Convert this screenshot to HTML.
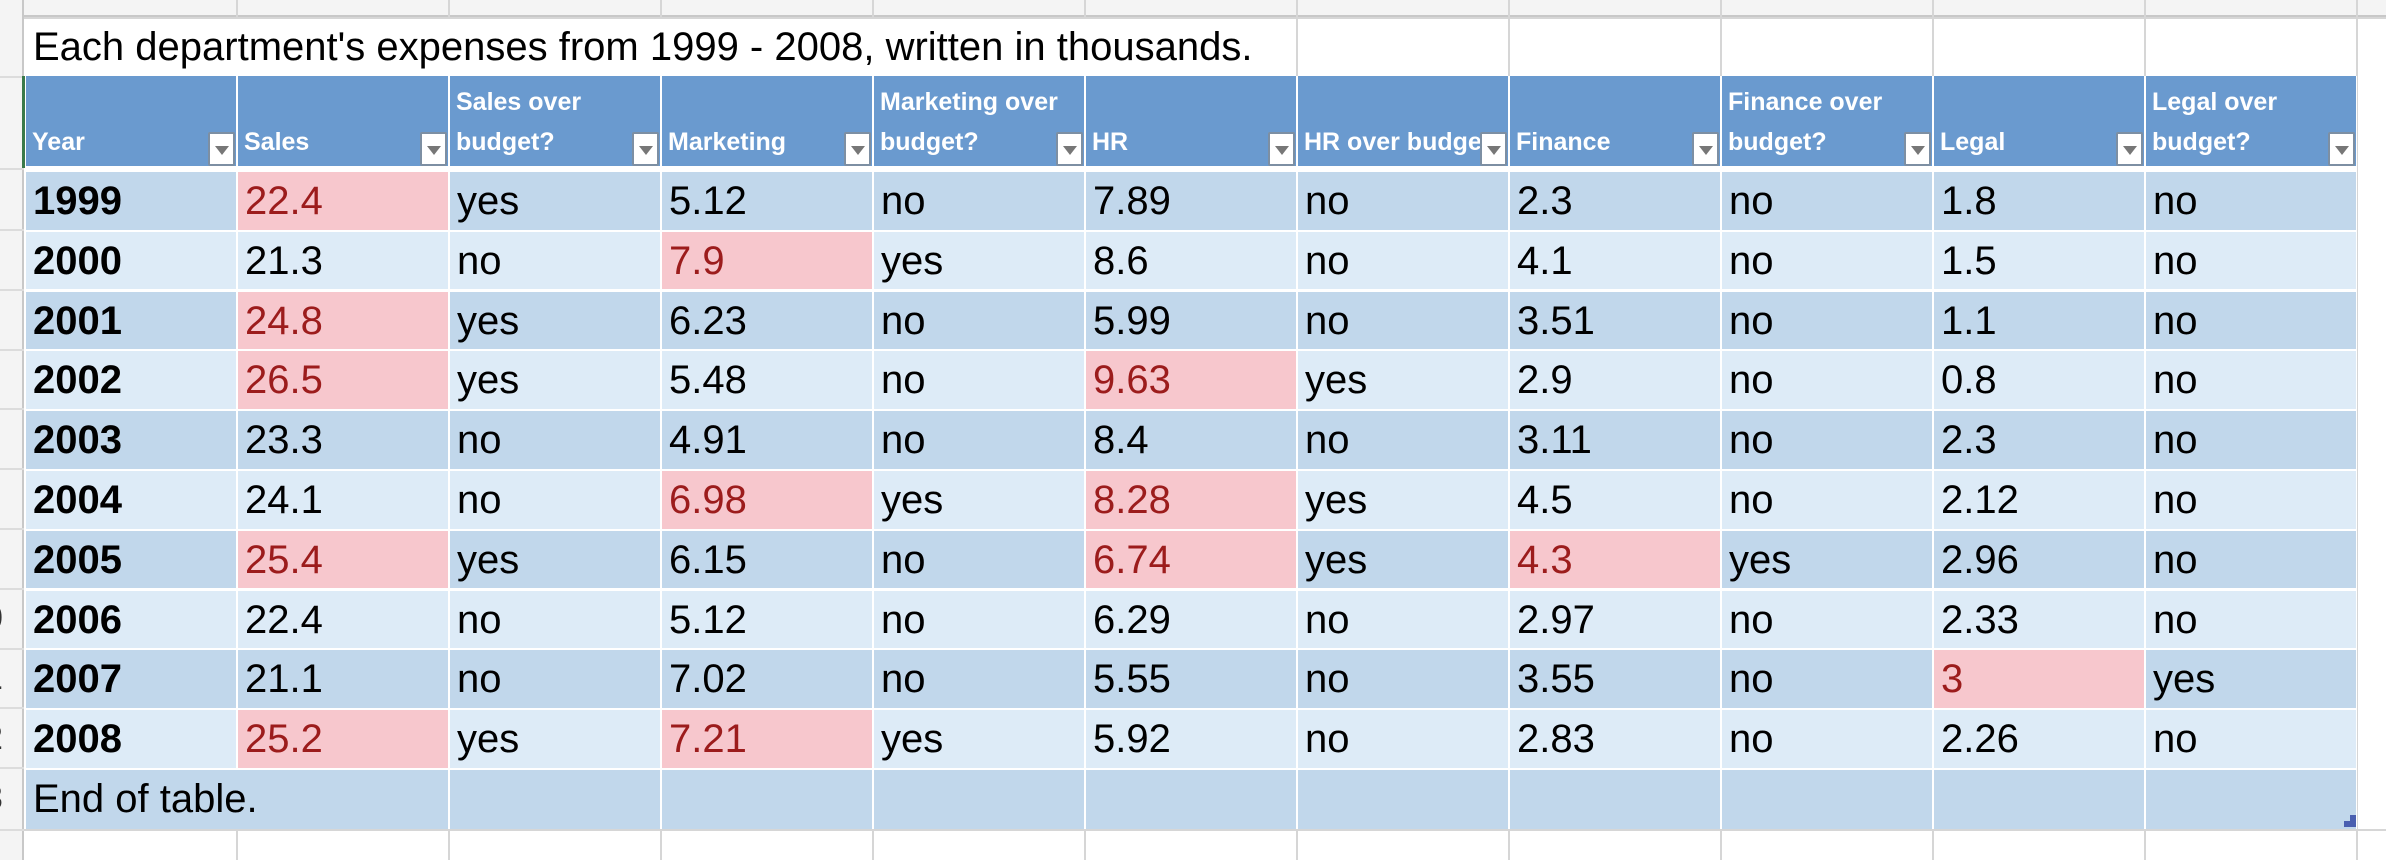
<!DOCTYPE html>
<html><head><meta charset="utf-8"><style>
*{margin:0;padding:0;box-sizing:border-box}
body{width:2386px;height:860px;background:#fff;position:relative;overflow:hidden;font-family:"Liberation Sans",sans-serif}
.vl{position:absolute;top:0;height:860px;width:2px;background:#d6d6d6}
.hl{position:absolute;left:0;width:2386px;height:2px;background:#d6d6d6}
.top{position:absolute;left:0;top:0;width:2386px;height:17px;background:#f4f4f4;border-bottom:2px solid #c8c8c8}
.rn{position:absolute;left:0;top:0;width:24px;height:860px;background:#f4f4f4;border-right:2px solid #c8c8c8}
.rnl{position:absolute;left:0;width:24px;height:2px;background:#dcdcdc}
.rnt{position:absolute;right:2px;font-size:34px;color:#333;line-height:40px}
.title{position:absolute;left:26px;top:19px;width:1270px;height:57px;background:#fff;font-size:40px;line-height:57px;padding-left:7px;white-space:nowrap;color:#000}
.wbg{position:absolute;left:25px;top:76px;width:2332px;height:753px;background:#fff}
.row{position:absolute;left:26px;display:flex;gap:2px;height:57.5px}
.c{width:210px;height:100%;font-size:40px;line-height:59px;padding-left:7px;color:#000;white-space:nowrap;overflow:hidden}
.d .c{background:#c1d7eb}
.l .c{background:#ddebf7}
.c.p{background:#f7c7cd !important;color:#9c1c1c}
.b{font-weight:bold}
.hdr{position:absolute;left:26px;top:76px;display:flex;gap:2px;height:90px}
.h{width:210px;height:90px;background:#6a9acf;color:#fff;font-weight:bold;font-size:25px;line-height:40px;padding:0 30px 4px 6px;position:relative;display:flex;align-items:flex-end;overflow:hidden;white-space:nowrap}
.dd{position:absolute;right:1px;bottom:0;width:27px;height:34px;background:#fff;border:2px solid #7d8fa3;border-radius:2px}
.dd:after{content:"";position:absolute;left:5px;top:12px;border-left:7px solid transparent;border-right:7px solid transparent;border-top:9px solid #777}
.green{position:absolute;left:22px;top:76px;width:3px;height:92px;background:#3a7a4a}
.corner{position:absolute;left:2344px;top:815px;width:12px;height:12px;background:#4a5fb0}
</style></head><body>
<div class="top"></div>
<div class="vl" style="left:236px"></div><div class="vl" style="left:448px"></div><div class="vl" style="left:660px"></div><div class="vl" style="left:872px"></div><div class="vl" style="left:1084px"></div><div class="vl" style="left:1296px"></div><div class="vl" style="left:1508px"></div><div class="vl" style="left:1720px"></div><div class="vl" style="left:1932px"></div><div class="vl" style="left:2144px"></div><div class="vl" style="left:2356px"></div>
<div class="hl" style="top:17px"></div><div class="hl" style="top:829px"></div>
<div class="rn"></div>
<div class="rnl" style="top:76px"></div><div class="rnl" style="top:168px"></div><div class="rnl" style="top:229px"></div><div class="rnl" style="top:289px"></div><div class="rnl" style="top:349px"></div><div class="rnl" style="top:408px"></div><div class="rnl" style="top:468px"></div><div class="rnl" style="top:528px"></div><div class="rnl" style="top:588px"></div><div class="rnl" style="top:648px"></div><div class="rnl" style="top:707px"></div><div class="rnl" style="top:767px"></div><div class="rnl" style="top:829px"></div>
<div class="rnt" style="top:598px;left:-16px">0</div><div class="rnt" style="top:658px;left:-16px">1</div><div class="rnt" style="top:718px;left:-16px">2</div><div class="rnt" style="top:778px;left:-16px">3</div>
<div class="title">Each department's expenses from 1999 - 2008, written in thousands.</div>
<div class="wbg"></div>
<div class="green"></div>
<div class="hdr">
<div class="h">Year<span class="dd"></span></div>
<div class="h">Sales<span class="dd"></span></div>
<div class="h">Sales over<br>budget?<span class="dd"></span></div>
<div class="h">Marketing<span class="dd"></span></div>
<div class="h">Marketing over<br>budget?<span class="dd"></span></div>
<div class="h">HR<span class="dd"></span></div>
<div class="h" style="padding-right:0">HR over budget?<span class="dd"></span></div>
<div class="h">Finance<span class="dd"></span></div>
<div class="h">Finance over<br>budget?<span class="dd"></span></div>
<div class="h">Legal<span class="dd"></span></div>
<div class="h">Legal over<br>budget?<span class="dd"></span></div>
</div>
<div class="row d" style="top:172px"><div class="c b">1999</div><div class="c p">22.4</div><div class="c">yes</div><div class="c">5.12</div><div class="c">no</div><div class="c">7.89</div><div class="c">no</div><div class="c">2.3</div><div class="c">no</div><div class="c">1.8</div><div class="c">no</div></div>
<div class="row l" style="top:231.8px"><div class="c b">2000</div><div class="c">21.3</div><div class="c">no</div><div class="c p">7.9</div><div class="c">yes</div><div class="c">8.6</div><div class="c">no</div><div class="c">4.1</div><div class="c">no</div><div class="c">1.5</div><div class="c">no</div></div>
<div class="row d" style="top:291.6px"><div class="c b">2001</div><div class="c p">24.8</div><div class="c">yes</div><div class="c">6.23</div><div class="c">no</div><div class="c">5.99</div><div class="c">no</div><div class="c">3.51</div><div class="c">no</div><div class="c">1.1</div><div class="c">no</div></div>
<div class="row l" style="top:351.4px"><div class="c b">2002</div><div class="c p">26.5</div><div class="c">yes</div><div class="c">5.48</div><div class="c">no</div><div class="c p">9.63</div><div class="c">yes</div><div class="c">2.9</div><div class="c">no</div><div class="c">0.8</div><div class="c">no</div></div>
<div class="row d" style="top:411.2px"><div class="c b">2003</div><div class="c">23.3</div><div class="c">no</div><div class="c">4.91</div><div class="c">no</div><div class="c">8.4</div><div class="c">no</div><div class="c">3.11</div><div class="c">no</div><div class="c">2.3</div><div class="c">no</div></div>
<div class="row l" style="top:471px"><div class="c b">2004</div><div class="c">24.1</div><div class="c">no</div><div class="c p">6.98</div><div class="c">yes</div><div class="c p">8.28</div><div class="c">yes</div><div class="c">4.5</div><div class="c">no</div><div class="c">2.12</div><div class="c">no</div></div>
<div class="row d" style="top:530.8px"><div class="c b">2005</div><div class="c p">25.4</div><div class="c">yes</div><div class="c">6.15</div><div class="c">no</div><div class="c p">6.74</div><div class="c">yes</div><div class="c p">4.3</div><div class="c">yes</div><div class="c">2.96</div><div class="c">no</div></div>
<div class="row l" style="top:590.6px"><div class="c b">2006</div><div class="c">22.4</div><div class="c">no</div><div class="c">5.12</div><div class="c">no</div><div class="c">6.29</div><div class="c">no</div><div class="c">2.97</div><div class="c">no</div><div class="c">2.33</div><div class="c">no</div></div>
<div class="row d" style="top:650.4px"><div class="c b">2007</div><div class="c">21.1</div><div class="c">no</div><div class="c">7.02</div><div class="c">no</div><div class="c">5.55</div><div class="c">no</div><div class="c">3.55</div><div class="c">no</div><div class="c p">3</div><div class="c">yes</div></div>
<div class="row l" style="top:710.2px"><div class="c b">2008</div><div class="c p">25.2</div><div class="c">yes</div><div class="c p">7.21</div><div class="c">yes</div><div class="c">5.92</div><div class="c">no</div><div class="c">2.83</div><div class="c">no</div><div class="c">2.26</div><div class="c">no</div></div>
<div class="row d" style="top:770px;height:59px"><div class="c" style="width:422px;line-height:59px">End of table.</div><div class="c"></div><div class="c"></div><div class="c"></div><div class="c"></div><div class="c"></div><div class="c"></div><div class="c"></div><div class="c"></div><div class="c"></div></div>
<div class="corner" style="clip-path:polygon(50% 0,100% 0,100% 100%,0 100%,0 50%,50% 50%)"></div>
</body></html>
